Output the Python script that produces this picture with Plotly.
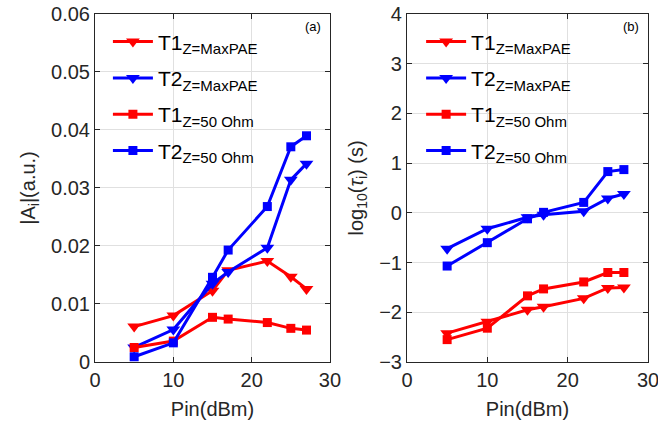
import plotly.graph_objects as go
from plotly.subplots import make_subplots

pin = [5, 10, 15, 17, 22, 25, 27]

# Panel (a): |A_i| (a.u.)
a_t1_maxpae = [0.0061, 0.0080, 0.0123, 0.0158, 0.0174, 0.0147, 0.0126]
a_t2_maxpae = [0.0025, 0.0056, 0.0135, 0.0155, 0.0197, 0.0314, 0.0342]
a_t1_50ohm = [0.0025, 0.0036, 0.0077, 0.0074, 0.0068, 0.0058, 0.0055]
a_t2_50ohm = [0.0009, 0.0033, 0.0146, 0.0193, 0.0268, 0.0371, 0.0390]

# Panel (b): log10(tau_i) (s)
b_t1_maxpae = [-2.42, -2.19, -1.95, -1.89, -1.72, -1.51, -1.50]
b_t2_maxpae = [-0.72, -0.32, -0.09, -0.04, 0.03, 0.29, 0.38]
b_t1_50ohm = [-2.55, -2.32, -1.67, -1.53, -1.39, -1.20, -1.20]
b_t2_50ohm = [-1.07, -0.60, -0.12, 0.01, 0.21, 0.83, 0.87]

SUB = '<sub><span style="font-size:15px">%s</span></sub>'
names = ["T1" + SUB % "Z=MaxPAE", "T2" + SUB % "Z=MaxPAE",
         "T1" + SUB % "Z=50 Ohm", "T2" + SUB % "Z=50 Ohm"]
colors = ["#FF0000", "#0000FF", "#FF0000", "#0000FF"]
symbols = ["triangle-down", "triangle-down", "square", "square"]
msizes = [12, 12, 9, 9]

fig = make_subplots(rows=1, cols=2)

panel_a = [a_t1_maxpae, a_t2_maxpae, a_t1_50ohm, a_t2_50ohm]
panel_b = [b_t1_maxpae, b_t2_maxpae, b_t1_50ohm, b_t2_50ohm]

for i, ys in enumerate(panel_a):
    fig.add_trace(go.Scatter(x=pin, y=ys, name=names[i], mode="lines+markers",
                             line=dict(color=colors[i], width=3),
                             marker=dict(symbol=symbols[i], size=msizes[i], color=colors[i]),
                             legendgroup="a%d" % i, legend="legend"), row=1, col=1)
for i, ys in enumerate(panel_b):
    fig.add_trace(go.Scatter(x=pin, y=ys, name=names[i], mode="lines+markers",
                             line=dict(color=colors[i], width=3),
                             marker=dict(symbol=symbols[i], size=msizes[i], color=colors[i]),
                             legendgroup="b%d" % i, legend="legend2"), row=1, col=2)

FS = 20
axis_common = dict(showline=True, linecolor="#262626", linewidth=1, mirror="allticks",
                   ticks="inside", ticklen=5, tickcolor="#262626", automargin=False,
                   showgrid=True, gridcolor="#E0E0E0", gridwidth=1, zeroline=False,
                   ticklabeloverflow="allow",
                   tickfont=dict(family="Liberation Sans, Arial", size=FS, color="#262626"))

fig.update_xaxes(axis_common)
fig.update_yaxes(axis_common)

fig.update_layout(
    width=658, height=429,
    paper_bgcolor="white", plot_bgcolor="white",
    margin=dict(l=0, r=0, t=0, b=0, autoexpand=False),
    font=dict(family="Liberation Sans, Arial", size=FS, color="#262626"),
    xaxis=dict(domain=[0.1444, 0.5015], range=[0, 30], dtick=10,
               title=dict(text="Pin(dBm)", standoff=12, font=dict(size=FS))),
    xaxis2=dict(domain=[0.6185, 0.9848], range=[0, 30], dtick=10,
                title=dict(text="Pin(dBm)", standoff=12, font=dict(size=FS))),
    yaxis=dict(domain=[0.1562, 0.9674], range=[0, 0.06], dtick=0.01,
               title=dict(text="|A<sub>i</sub>|(a.u.)", standoff=10, font=dict(size=FS))),
    yaxis2=dict(domain=[0.1562, 0.9674], range=[-3, 4], dtick=1,
                title=dict(text="log<sub>10</sub>(<i>τ</i><sub>i</sub>) (s)", standoff=10, font=dict(size=FS))),
    legend=dict(x=0.164, y=0.95, xanchor="left", yanchor="top", bgcolor="rgba(0,0,0,0)",
                font=dict(size=21, color="#000000"), itemwidth=40, tracegroupgap=6),
    legend2=dict(x=0.640, y=0.95, xanchor="left", yanchor="top", bgcolor="rgba(0,0,0,0)",
                 font=dict(size=21, color="#000000"), itemwidth=40, tracegroupgap=6),
    showlegend=True,
)

fig.add_annotation(text="(a)", xref="x domain", yref="y domain", x=0.97, y=0.99,
                   xanchor="right", yanchor="top", showarrow=False,
                   font=dict(size=13, color="#000000"))
fig.add_annotation(text="(b)", xref="x2 domain", yref="y2 domain", x=0.97, y=0.99,
                   xanchor="right", yanchor="top", showarrow=False,
                   font=dict(size=13, color="#000000"))

fig.write_html("out.html", config={"displayModeBar": False},
               post_script="document.body.style.margin='0px';")
